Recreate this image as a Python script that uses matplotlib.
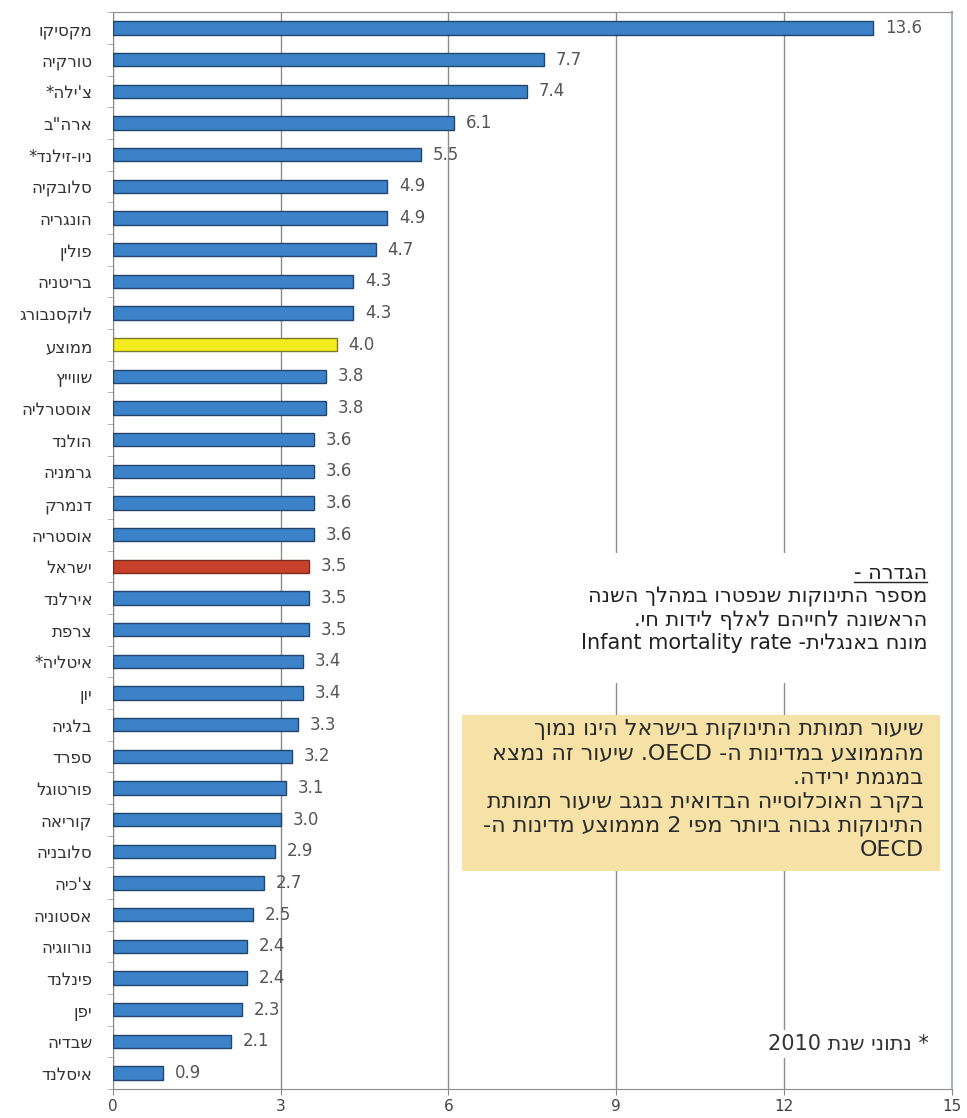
import re
import matplotlib
matplotlib.use('Agg')
import matplotlib.pyplot as plt
from matplotlib.patches import Rectangle
from matplotlib.lines import Line2D

# infant mortality per 1000 live births, OECD countries
countries = ['מקסיקו', 'טורקיה', "צ'ילה*", 'ארה"ב', 'ניו-זילנד*', 'סלובקיה', 'הונגריה',
             'פולין', 'בריטניה', 'לוקסנבורג', 'ממוצע', 'שווייץ', 'אוסטרליה', 'הולנד',
             'גרמניה', 'דנמרק', 'אוסטריה', 'ישראל', 'אירלנד', 'צרפת', 'איטליה*', 'יון',
             'בלגיה', 'ספרד', 'פורטוגל', 'קוריאה', 'סלובניה', "צ'כיה", 'אסטוניה',
             'נורווגיה', 'פינלנד', 'יפן', 'שבדיה', 'איסלנד']
rates = [13.6, 7.7, 7.4, 6.1, 5.5, 4.9, 4.9, 4.7, 4.3, 4.3, 4.0, 3.8, 3.8, 3.6,
         3.6, 3.6, 3.6, 3.5, 3.5, 3.5, 3.4, 3.4, 3.3, 3.2, 3.1, 3.0, 2.9, 2.7, 2.5,
         2.4, 2.4, 2.3, 2.1, 0.9]
xticks = [0, 3, 6, 9, 12, 15]

definition = ['הגדרה -',
              'מספר התינוקות שנפטרו במהלך השנה',
              'הראשונה לחייהם לאלף לידות חי.',
              'מונח באנגלית- Infant mortality rate']
note_lines = ['שיעור תמותת התינוקות בישראל הינו נמוך',
              'מהממוצע במדינות ה- OECD. שיעור זה נמצא',
              'במגמת ירידה.',
              'בקרב האוכלוסייה הבדואית בנגב שיעור תמותת',
              'התינוקות גבוה ביותר מפי 2 מממוצע מדינות ה-',
              'OECD']
footnote = '* נתוני שנת 2010'

FONT = ['DejaVu Sans']


def rtl(s):
    # matplotlib lays text out left to right, so flip the Hebrew and keep latin/digit runs readable
    r = s[::-1]
    return re.sub(r'[A-Za-z0-9][A-Za-z0-9 .]*[A-Za-z0-9]|[A-Za-z0-9]', lambda m: m.group(0)[::-1], r)


fig = plt.figure(figsize=(9.67, 11.18), dpi=100)
ax = fig.add_axes([0.117, 0.026, 0.867, 0.963])

ypos = list(range(len(countries)))
colors = []
edges = []
for c in countries:
    if c == 'ממוצע':
        colors.append('#f3ec1e'); edges.append('#7d7a2a')
    elif c == 'ישראל':
        colors.append('#c8412c'); edges.append('#7e2a1c')
    else:
        colors.append('#3c82c9'); edges.append('#22456b')

ax.barh(ypos, rates, height=0.42, color=colors, edgecolor=edges, linewidth=1.0, zorder=3)
for yi, v in zip(ypos, rates):
    ax.text(v + 0.21, yi, f'{v:.1f}', va='center', ha='left', fontsize=12,
            color='#555555', family=FONT, zorder=4)

ax.set_xlim(0, 15)
ax.set_ylim(len(countries) - 0.5, -0.5)
ax.set_xticks(xticks)
ax.set_xticklabels([str(t) for t in xticks], family=FONT)
ax.xaxis.grid(True, color='#8c8c8c', linewidth=1.0)
ax.set_axisbelow(True)

ax.set_yticks(ypos)
ax.set_yticklabels([rtl(c) for c in countries], fontsize=12, color='#333333', family=FONT)
ax.set_yticks([k + 0.5 for k in range(-1, len(countries))], minor=True)
ax.tick_params(axis='y', which='major', length=0, pad=15)
ax.tick_params(axis='y', which='minor', length=4, color='#aaaaaa')
ax.tick_params(axis='x', length=4, color='#888888', labelsize=11, labelcolor='#444444', pad=3)

for side in ['left', 'bottom', 'top']:
    ax.spines[side].set_color('#8c8c8c')
ax.spines['right'].set_color('#a9b4c4')
ax.spines['right'].set_linewidth(1.5)

# definition block sits on a white patch that cuts the grid lines
ax.add_patch(Rectangle((0.52, 0.3775), 0.47, 0.1205, transform=ax.transAxes,
                       facecolor='white', edgecolor='none', zorder=2))
def_y = [0.479, 0.4565, 0.4355, 0.4145]
head = ax.text(0.971, def_y[0], rtl(definition[0]), transform=ax.transAxes, ha='right',
               va='center', fontsize=15, color='#222222', family=FONT, zorder=5)
for line, yy in zip(definition[1:], def_y[1:]):
    ax.text(0.971, yy, rtl(line), transform=ax.transAxes, ha='right', va='center',
            fontsize=15, color='#222222', family=FONT, zorder=5)

# yellow note box
ax.add_patch(Rectangle((0.4165, 0.202), 0.570, 0.1456, transform=ax.transAxes,
                       facecolor='#f6e2a6', edgecolor='none', zorder=2))
for i, line in enumerate(note_lines):
    ax.text(0.9666, 0.334 - i * 0.02245, rtl(line), transform=ax.transAxes, ha='right',
            va='center', fontsize=16, color='#2a2a2a', family=FONT, zorder=5)

ax.text(0.9726, 0.0417, rtl(footnote), transform=ax.transAxes, ha='right', va='center',
        fontsize=15, color='#333333', family=FONT, zorder=5,
        bbox=dict(facecolor='white', edgecolor='none', pad=3))

# underline the definition heading
renderer = fig.canvas.get_renderer()
bb = head.get_window_extent(renderer).transformed(fig.transFigure.inverted())
fig.add_artist(Line2D([bb.x0, bb.x1], [bb.y0 + 0.001, bb.y0 + 0.001], color='#222222', linewidth=1.0))

fig.savefig('out.png', dpi=100, facecolor='white')
